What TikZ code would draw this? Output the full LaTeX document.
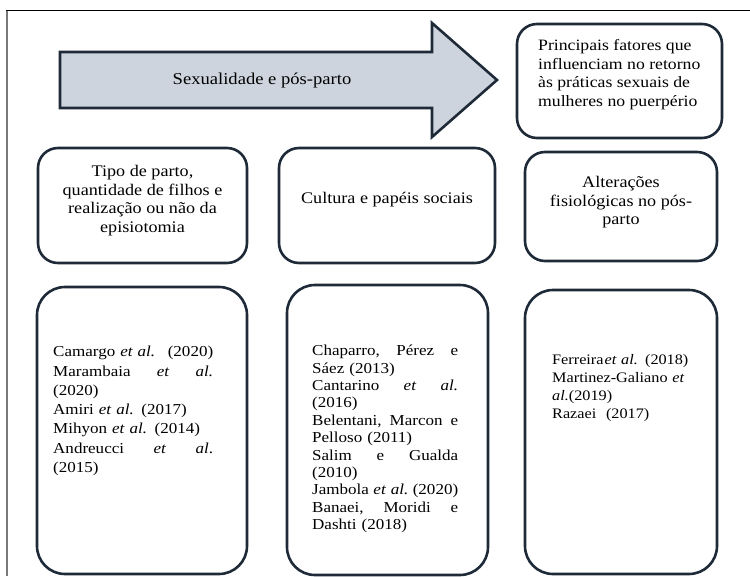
\documentclass[tikz,border=0pt]{standalone}
\usepackage{fontspec}
\setmainfont{Liberation Serif}[FakeStretch=1.12]
\definecolor{boxc}{RGB}{30,42,56}
\definecolor{arrowfill}{RGB}{205,212,222}
\definecolor{framegray}{RGB}{120,120,120}
\tikzset{
  box/.style={draw=boxc, line width=2.6pt, rounded corners=20pt, inner sep=0pt},
  bigbox/.style={box, rounded corners=28pt},
  toptext/.style={inner sep=0pt, font=\fontsize{15.8}{18.5}\selectfont},
  midtext/.style={inner sep=0pt, align=center, font=\fontsize{16.2}{18.5}\selectfont},
  reftext/.style={inner sep=0pt, anchor=north west, align=left}
}
\begin{document}
\begin{tikzpicture}[x=1pt,y=-1pt]
\useasboundingbox (0,0) rectangle (750,576);
% frame
\draw[framegray, line width=1.6pt] (7,10) -- (7,576);
\draw[black, line width=1pt] (6.2,10) -- (750,10);
% big arrow
\draw[boxc, line width=2.6pt, fill=arrowfill, line join=miter]
  (60,52) -- (432,52) -- (432,23) -- (497,80) -- (432,137) -- (432,108) -- (60,108) -- cycle;
\node[inner sep=0pt, font=\fontsize{16.6}{19}\selectfont] (arrowlabel) at (262,80) {Sexualidade e pós-parto};
% top right box
\node[box, minimum width=205pt, minimum height=114pt] (topbox) at (619.5,81) {};
\node[toptext, anchor=north west, align=left] (toptxt) at (538,39.5)
  {Principais fatores que\\influenciam no retorno\\às práticas sexuais de\\mulheres no puerpério};
% row 2
\node[box, minimum width=209pt, minimum height=115pt] (b1) at (142.5,205.5) {};
\node[midtext] (t1) at (142.5,200.5)
  {Tipo de parto,\\quantidade de filhos e\\realização ou não da\\episiotomia};
\node[box, minimum width=216pt, minimum height=115pt] (b2) at (387,205.5) {};
\node[midtext] (t2) at (387,200) {Cultura e papéis sociais};
\node[box, minimum width=192pt, minimum height=109pt] (b3) at (621,206.5) {};
\node[midtext] (t3) at (621,202.5)
  {Alterações\\fisiológicas no pós-\\parto};
% row 3
\node[bigbox, minimum width=210pt, minimum height=287pt] (c1) at (142,430.5) {};
\node[reftext, text width=160pt, font=\fontsize{15.2}{19.3}\selectfont] (r1) at (53,346)
  {Camargo \textit{et al.}\hfill(2020)\\
   Marambaia\hfill\textit{et}\hfill\textit{al.}\\
   (2020)\\
   Amiri \textit{et al.} (2017)\\
   Mihyon \textit{et al.} (2014)\\
   Andreucci\hfill\textit{et}\hfill\textit{al}.\\
   (2015)};
\node[bigbox, minimum width=201pt, minimum height=290pt] (c2) at (387.5,430) {};
\node[reftext, text width=146pt, font=\fontsize{15.2}{17.4}\selectfont] (r2) at (312,345)
  {Chaparro,\hfill Pérez\hfill e\\
   Sáez (2013)\\
   Cantarino\hfill\textit{et}\hfill\textit{al.}\\
   (2016)\\
   Belentani,\hfill Marcon\hfill e\\
   Pelloso (2011)\\
   Salim\hfill e\hfill Gualda\\
   (2010)\\
   Jambola\hfill\textit{et al.}\hfill(2020)\\
   Banaei,\hfill Moridi\hfill e\\
   Dashti (2018)};
\node[bigbox, minimum width=192pt, minimum height=284pt] (c3) at (621,432) {};
\node[reftext, text width=150pt, font=\fontsize{14.5}{18}\selectfont] (r3) at (552,354.5)
  {Ferreira\kern1pt\textit{et al.} (2018)\\
   Martinez-Galiano \textit{et}\\
   \textit{al.}(2019)\\
   Razaei\ \ (2017)};
\end{tikzpicture}
\end{document}
